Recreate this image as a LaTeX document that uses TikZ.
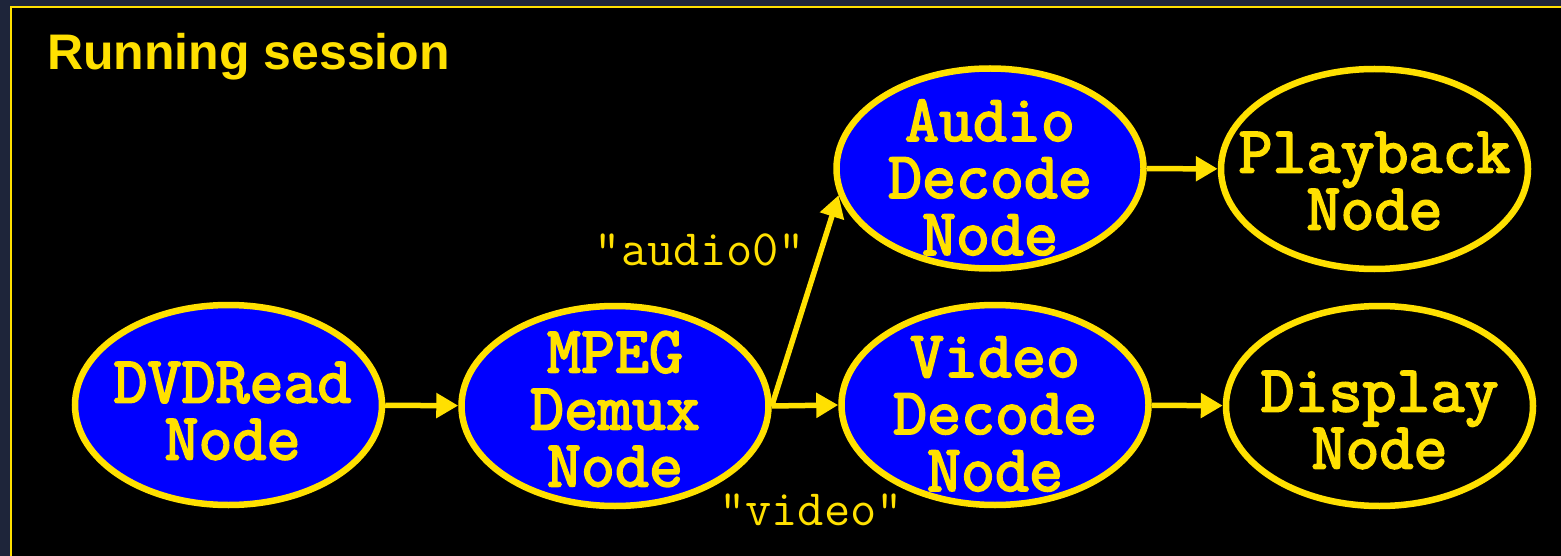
\documentclass[tikz,border=0pt]{standalone}
\usepackage{fontspec}
\setmainfont{Liberation Sans}
\newfontfamily\cbold{Latin Modern Mono}[FakeBold=2.8]
\usetikzlibrary{shapes.geometric,arrows.meta}
\definecolor{gold}{RGB}{255,224,0}
\definecolor{navy}{RGB}{30,37,58}
\definecolor{nodeblue}{RGB}{0,0,255}
\tikzset{
  proc/.style={ellipse,draw=gold,line width=6.5pt,fill=nodeblue,minimum width=307pt,minimum height=200pt,inner sep=0pt},
  sink/.style={proc,fill=black},
  ntext/.style={text=gold,font=\cbold\fontsize{66}{57}\selectfont,align=center,inner sep=0pt},
  elabel/.style={text=gold,font=\ttfamily\fontsize{51}{51}\selectfont,inner sep=0pt},
  flow/.style={draw=gold,line width=5.5pt,-{Triangle[length=22pt,width=24pt]}},
}
\begin{document}
\begin{tikzpicture}[x=1pt,y=-1pt]
\useasboundingbox (0,0) rectangle (1561,556);
\fill[navy] (0,0) rectangle (1561,556);
\draw[gold,fill=black,line width=2pt] (11,7) rectangle (1600,600);
\node[anchor=base west,text=gold,font=\bfseries\fontsize{50}{50}\selectfont,inner sep=0pt] (title) at (47,70) {Running session};

\node[proc] (dvd) at (228.5,405) {};
\node[proc] (mpeg) at (615,406) {};
\node[proc] (audio) at (990,168.5) {};
\node[proc] (video) at (995,405) {};
\node[sink] (play) at (1374.5,169) {};
\node[sink] (disp) at (1379.5,406) {};

\node[ntext] (dvdT) at ([xshift=4pt,yshift=-6pt]dvd.center) {DVDRead\\Node};
\node[ntext] (mpegT) at ([yshift=-3pt]mpeg.center) {MPEG\\Demux\\Node};
\node[ntext] (audioT) at ([yshift=-9pt]audio.center) {Audio\\Decode\\Node};
\node[ntext] (videoT) at ([yshift=-9pt]video.center) {Video\\Decode\\Node};
\node[ntext] (playT) at ([yshift=-12pt]play.center) {Playback\\Node};
\node[ntext] (dispT) at ([yshift=-14pt]disp.center) {Display\\Node};

\draw[flow] (dvd) -- (mpeg);
\draw[flow] (mpeg.east) -- (video.west);
\draw[flow] (mpeg.east) -- (audio.190);
\draw[flow] (audio) -- (play);
\draw[flow] (video) -- (disp);

\node[elabel] (alab) at (700,250) {"audio0"};
\node[elabel] (vlab) at (811,510) {"video"};
\end{tikzpicture}
\end{document}
